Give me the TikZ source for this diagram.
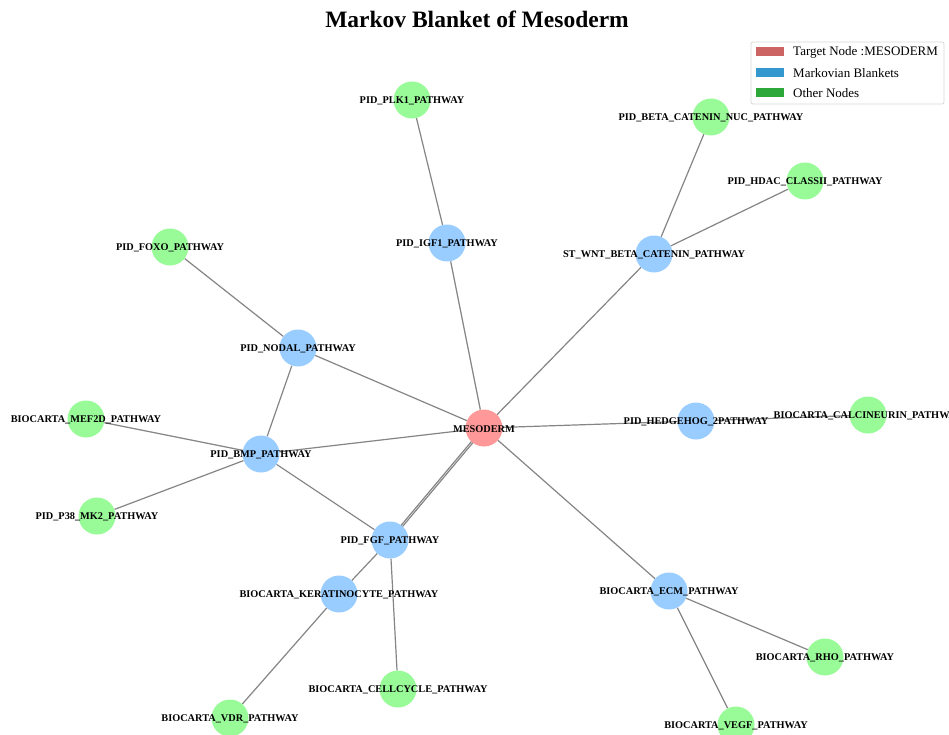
\documentclass[tikz,border=0pt]{standalone}
\usepackage{fontspec}
\setmainfont{Liberation Serif}
\usetikzlibrary{backgrounds}
\definecolor{targetfill}{HTML}{FF9999}
\definecolor{blanketfill}{HTML}{99CCFF}
\definecolor{otherfill}{HTML}{98FB98}
\definecolor{edgegray}{HTML}{858585}
\definecolor{legred}{HTML}{CD6464}
\definecolor{legbluepatch}{HTML}{3498CF}
\definecolor{leggreen}{HTML}{2CA83A}
\tikzset{
  dot/.style={circle, minimum size=37pt, inner sep=0pt, draw=none},
  target/.style={dot, fill=targetfill},
  blanket/.style={dot, fill=blanketfill},
  other/.style={dot, fill=otherfill},
  lbl/.style={font=\fontsize{10.3}{11}\selectfont\bfseries, inner sep=0pt, text=black, yshift=-1pt},
  link/.style={draw=edgegray, line width=1.2pt},
  patch/.style={minimum width=28pt, minimum height=9pt, inner sep=0pt},
  legtext/.style={font=\fontsize{13}{14}\selectfont, anchor=west, inner sep=0pt}
}
\begin{document}
\begin{tikzpicture}[x=1pt, y=-1pt]
\useasboundingbox (0,0) rectangle (949,735);
\clip (0,0) rectangle (949,735);

% title
\node[font=\fontsize{23.5}{26}\selectfont\bfseries, inner sep=0pt] (title) at (477,19) {Markov Blanket of Mesoderm};

% nodes
\node[target]  (meso)  at (484,428) {};
\node[blanket] (igf1)  at (447,243) {};
\node[blanket] (wnt)   at (654,254) {};
\node[blanket] (nodal) at (298,348) {};
\node[blanket] (bmp)   at (261,454) {};
\node[blanket] (hh)    at (696,421) {};
\node[blanket] (fgf)   at (390,540) {};
\node[blanket] (kera)  at (339,594) {};
\node[blanket] (ecm)   at (669,591) {};
\node[other]   (plk1)  at (412,100) {};
\node[other]   (bcat)  at (711,117) {};
\node[other]   (hdac)  at (805,181) {};
\node[other]   (foxo)  at (170,247) {};
\node[other]   (mef2d) at (86,419) {};
\node[other]   (p38)   at (97,516) {};
\node[other]   (calc)  at (868,415) {};
\node[other]   (ccyc)  at (398,689) {};
\node[other]   (vdr)   at (230,718) {};
\node[other]   (rho)   at (825,657) {};
\node[other]   (vegf)  at (736,725) {};

% white page and connectors behind the nodes
\begin{scope}[on background layer]
\fill[white] (0,0) rectangle (949,735);
\draw[link] (plk1) -- (igf1);
\draw[link] (igf1) -- (meso);
\draw[link] (bcat) -- (wnt);
\draw[link] (hdac) -- (wnt);
\draw[link] (wnt) -- (meso);
\draw[link] (foxo) -- (nodal);
\draw[link] (nodal) -- (meso);
\draw[link] (nodal) -- (bmp);
\draw[link] (mef2d) -- (bmp);
\draw[link] (p38) -- (bmp);
\draw[link] (bmp) -- (meso);
\draw[link] (bmp) -- (fgf);
\draw[link] ([xshift=-1.2pt]meso.center) -- ([xshift=-1.2pt]fgf.center);
\draw[link] ([xshift=1.2pt]meso.center) -- ([xshift=1.2pt]fgf.center);
\draw[link] (fgf) -- (kera);
\draw[link] (fgf) -- (ccyc);
\draw[link] (kera) -- (vdr);
\draw[link] (meso) -- (hh);
\draw[link] (hh) -- (calc);
\draw[link] (meso) -- (ecm);
\draw[link] (ecm) -- (rho);
\draw[link] (ecm) -- (vegf);
\end{scope}

% labels on top
\node[lbl] at (meso)  {MESODERM};
\node[lbl] at (igf1)  {PID\_IGF1\_PATHWAY};
\node[lbl] at (wnt)   {ST\_WNT\_BETA\_CATENIN\_PATHWAY};
\node[lbl] at (nodal) {PID\_NODAL\_PATHWAY};
\node[lbl] at (bmp)   {PID\_BMP\_PATHWAY};
\node[lbl] at (hh)    {PID\_HEDGEHOG\_2PATHWAY};
\node[lbl] at (fgf)   {PID\_FGF\_PATHWAY};
\node[lbl] at (kera)  {BIOCARTA\_KERATINOCYTE\_PATHWAY};
\node[lbl] at (ecm)   {BIOCARTA\_ECM\_PATHWAY};
\node[lbl] at (plk1)  {PID\_PLK1\_PATHWAY};
\node[lbl] at (bcat)  {PID\_BETA\_CATENIN\_NUC\_PATHWAY};
\node[lbl] at (hdac)  {PID\_HDAC\_CLASSII\_PATHWAY};
\node[lbl] at (foxo)  {PID\_FOXO\_PATHWAY};
\node[lbl] at (mef2d) {BIOCARTA\_MEF2D\_PATHWAY};
\node[lbl] at (p38)   {PID\_P38\_MK2\_PATHWAY};
\node[lbl] at (calc)  {BIOCARTA\_CALCINEURIN\_PATHWAY};
\node[lbl] at (ccyc)  {BIOCARTA\_CELLCYCLE\_PATHWAY};
\node[lbl] at (vdr)   {BIOCARTA\_VDR\_PATHWAY};
\node[lbl] at (rho)   {BIOCARTA\_RHO\_PATHWAY};
\node[lbl] at (vegf)  {BIOCARTA\_VEGF\_PATHWAY};

% legend
\node[draw=black!15, line width=0.8pt, rounded corners=2pt, fill=white, minimum width=193pt, minimum height=62pt, inner sep=0pt] (legend) at (847.5,73) {};
\node[patch, fill=legred]  (pr) at (770,52) {};
\node[patch, fill=legbluepatch] (pb) at (770,73) {};
\node[patch, fill=leggreen] (pg) at (770,93) {};
\node[legtext] (tr) at (793,52) {Target Node :MESODERM};
\node[legtext] (tb) at (793,73) {Markovian Blankets};
\node[legtext] (tg) at (793,93) {Other Nodes};
\end{tikzpicture}
\end{document}
